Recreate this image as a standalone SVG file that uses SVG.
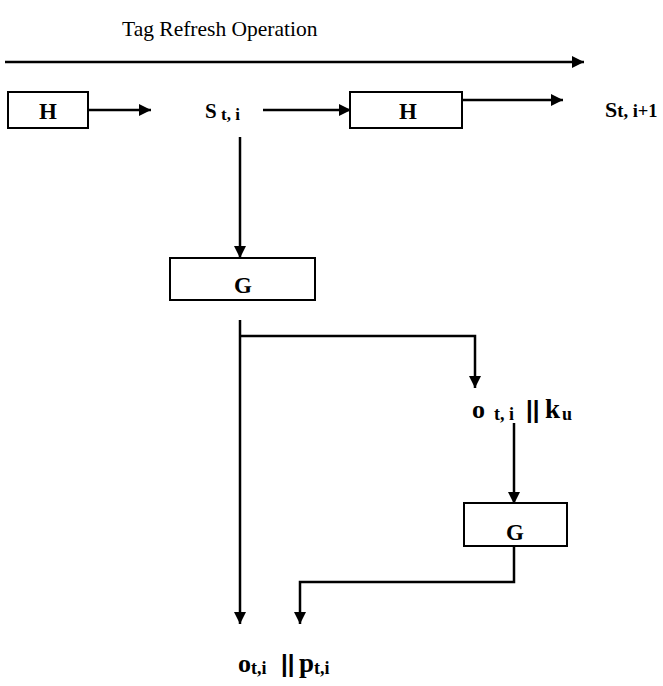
<svg xmlns="http://www.w3.org/2000/svg" width="663" height="686" viewBox="0 0 663 686">
<defs>
<marker id="ah" markerWidth="12" markerHeight="12" refX="12" refY="6" orient="auto" markerUnits="userSpaceOnUse">
<path d="M0,0 L12,6 L0,12 Z" fill="#000"/>
</marker>
<style>
.box{fill:#fff;stroke:#000;stroke-width:2}
.ln{fill:none;stroke:#000;stroke-width:2.5}
.t{font-family:"Liberation Serif","Times New Roman",serif;fill:#000}
.s{font-family:"Liberation Sans",Arial,sans-serif;fill:#000}
.b{font-weight:bold}
</style>
</defs>
<rect width="663" height="686" fill="#fff"/>
<text class="t" x="122" y="36" font-size="21.5">Tag Refresh Operation</text>
<g id="connectors">
<line class="ln" x1="5" y1="62" x2="584" y2="62" marker-end="url(#ah)"/>
<line class="ln" x1="88" y1="110" x2="151" y2="110" marker-end="url(#ah)"/>
<line class="ln" x1="263" y1="110" x2="351" y2="110" marker-end="url(#ah)"/>
<line class="ln" x1="462" y1="100" x2="563" y2="100" marker-end="url(#ah)"/>
<line class="ln" x1="240" y1="137" x2="240" y2="258" marker-end="url(#ah)"/>
<line class="ln" x1="240" y1="320" x2="240" y2="624" marker-end="url(#ah)"/>
<polyline class="ln" points="240,336 475,336 475,388" marker-end="url(#ah)"/>
<line class="ln" x1="514" y1="423" x2="514" y2="504" marker-end="url(#ah)"/>
<polyline class="ln" points="514,546 514,582 300,582 300,624" marker-end="url(#ah)"/>
</g>
<g id="H1"><rect class="box" x="8" y="92" width="80" height="36"/><text class="t b" x="48" y="119" font-size="23" text-anchor="middle">H</text></g>
<g id="s_ti"><text class="t b" x="205" y="118" font-size="21">S</text><text class="t b" x="221" y="120" font-size="17">t, i</text></g>
<g id="H2"><rect class="box" x="350" y="92" width="112" height="36"/><text class="t b" x="408" y="119" font-size="23" text-anchor="middle">H</text></g>
<g id="s_ti1"><text class="t b" x="605" y="117" font-size="22">S<tspan font-size="18.5">t, i+1</tspan></text></g>
<g id="G1"><rect class="box" x="170" y="258" width="145" height="42"/><text class="t b" x="243" y="293" font-size="23" text-anchor="middle">G</text></g>
<g id="o_ku"><text class="t b" x="472" y="418" font-size="26">o</text><text class="t b" x="494" y="420" font-size="18">t, i</text><text class="s b" x="526" y="418" font-size="24">||</text><text class="t b" x="545" y="418" font-size="27">k</text><text class="t b" x="562" y="420" font-size="18">u</text></g>
<g id="G2"><rect class="box" x="464" y="503" width="103" height="43"/><text class="t b" x="515" y="540" font-size="23" text-anchor="middle">G</text></g>
<g id="o_pt"><text class="t b" x="238" y="672" font-size="26">o</text><text class="t b" x="251" y="674" font-size="18">t,i</text><text class="s b" x="281" y="672" font-size="24">||</text><text class="t b" x="299" y="672" font-size="27">p</text><text class="t b" x="314" y="674" font-size="18">t,i</text></g>
</svg>
